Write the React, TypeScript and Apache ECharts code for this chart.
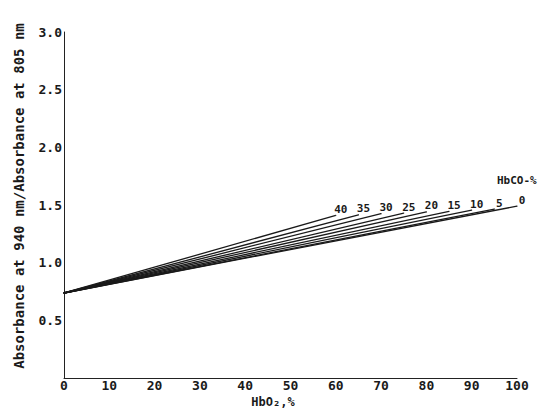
import React, { useEffect, useRef } from "react";
import * as echarts from "echarts";

// HbCO levels (%) for each line
const hbcoLevels = [0, 5, 10, 15, 20, 25, 30, 35, 40];
// each line starts at HbO2 = 0%
const startHbO2 = 0;
const startRatio = 0.737;
// each line ends where HbO2 + HbCO = 100%
const endHbO2 = [100, 95, 90, 85, 80, 75, 70, 65, 60];
const endRatio = [1.49, 1.465, 1.455, 1.445, 1.44, 1.43, 1.425, 1.415, 1.41];

const xTicks = [0, 10, 20, 30, 40, 50, 60, 70, 80, 90, 100];
const yTicks = [0, 0.5, 1.0, 1.5, 2.0, 2.5, 3.0];

const FONT = "DejaVu Sans Mono";
const INK = "#1a1a1a";

export default function App() {
  const ref = useRef<HTMLDivElement>(null);
  useEffect(() => {
    if (!ref.current) return;
    const chart = echarts.init(ref.current, null, { renderer: "svg" });
    const series = hbcoLevels.map((lvl, i) => ({
      type: "line",
      name: String(lvl),
      symbol: "circle",
      symbolSize: 1,
      showSymbol: true,
      itemStyle: { color: INK },
      lineStyle: { color: INK, width: 1.3 },
      data: [
        [startHbO2, startRatio],
        {
          value: [endHbO2[i], endRatio[i]],
          label: {
            show: true,
            position: "top",
            distance: 0,
            offset: [5, 0],
            formatter: String(lvl),
            fontFamily: FONT,
            fontWeight: "bold",
            fontSize: 11,
            color: INK,
          },
        },
      ],
    }));
    chart.setOption({
      animation: false,
      backgroundColor: "#ffffff",
      grid: { left: 64, right: 29, top: 32, bottom: 31, containLabel: false },
      xAxis: {
        type: "value",
        min: xTicks[0],
        max: xTicks[xTicks.length - 1],
        interval: 10,
        axisLine: { show: true, lineStyle: { color: "#222", width: 1 } },
        axisTick: { show: false },
        splitLine: { show: false },
        axisLabel: {
          fontFamily: FONT,
          fontWeight: "bold",
          fontSize: 13,
          color: INK,
          margin: 1,
        },
      },
      yAxis: {
        type: "value",
        min: yTicks[0],
        max: yTicks[yTicks.length - 1],
        interval: 0.5,
        axisLine: { show: true, lineStyle: { color: "#222", width: 1 } },
        axisTick: { show: false },
        splitLine: { show: false },
        axisLabel: {
          showMinLabel: false,
          formatter: (v: number) => v.toFixed(1),
          fontFamily: FONT,
          fontWeight: "bold",
          fontSize: 13,
          color: INK,
          margin: 2,
        },
      },
      graphic: [
        {
          type: "text",
          x: 19,
          y: 196,
          rotation: Math.PI / 2,
          style: {
            text: "Absorbance at 940 nm/Absorbance at 805 nm",
            fontFamily: FONT,
            fontWeight: "bold",
            fontSize: 14,
            fill: INK,
            align: "center",
            verticalAlign: "middle",
          },
        },
        {
          type: "text",
          x: 273,
          y: 402,
          style: {
            text: "HbO₂,%",
            fontFamily: FONT,
            fontWeight: "bold",
            fontSize: 12,
            fill: INK,
            align: "center",
            verticalAlign: "middle",
          },
        },
        {
          type: "text",
          x: 497,
          y: 180,
          style: {
            text: "HbCO-%",
            fontFamily: FONT,
            fontWeight: "bold",
            fontSize: 11,
            fill: INK,
            align: "left",
            verticalAlign: "middle",
          },
        },
      ],
      series,
    });
    return () => chart.dispose();
  }, []);
  return (
    <div
      ref={ref}
      style={{ position: "fixed", left: 0, top: 0, width: 546, height: 409 }}
    />
  );
}
